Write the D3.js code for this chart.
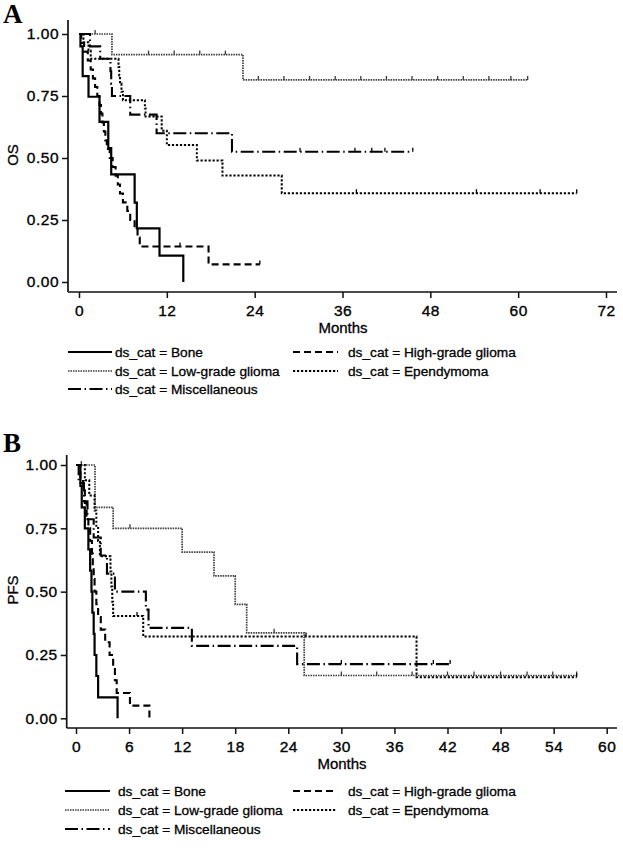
<!DOCTYPE html>
<html><head><meta charset="utf-8">
<script src="https://cdn.jsdelivr.net/npm/d3@7"></script>
<style>
body{margin:0;background:#fff;}
svg{display:block;}
text{font-family:"Liberation Sans",Arial,sans-serif;fill:#000;}
</style></head>
<body><svg id="c" width="623" height="857"></svg>
<script>
// ---------- DATA ----------
const seriesNames = ["Bone","High-grade glioma","Low-grade glioma","Ependymoma","Miscellaneous"];
const legendLabelPrefix = "ds_cat = ";

const osXTicks = [0,12,24,36,48,60,72];
const pfsXTicks = [0,6,12,18,24,30,36,42,48,54,60];
const yTicks = [0,0.25,0.5,0.75,1];

// OS (panel A): event times (months) and survival after each event
const osBoneTimes = [0.2,0.5,1.3,2.8,4.0,4.4,7.6,7.9,11.0,14.25];
const osBoneSurv  = [0.95,0.83,0.747,0.646,0.54,0.434,0.32,0.216,0.106,0];
const osBoneEnd = 14.25, osBoneCens = [];

const osHggTimes = [0.3,0.7,1.2,1.6,1.9,2.2,2.5,2.8,3.0,3.2,3.4,3.6,3.8,4.2,4.6,5.0,5.3,5.6,6.0,6.6,7.0,7.6,8.0,8.3,17.7];
const osHggSurv  = [0.964,0.929,0.893,0.857,0.821,0.786,0.75,0.714,0.679,0.643,0.607,0.571,0.536,0.5,0.464,0.429,0.393,0.357,0.321,0.286,0.25,0.214,0.179,0.143,0.071];
const osHggEnd = 24.7, osHggCens = [13.8,24.7];

const osLggTimes = [4.5,22.4];
const osLggSurv  = [0.917,0.815];
const osLggEnd = 61.3, osLggCens = [2.2,9.5,13,16.5,20,24.5,28,31.5,35,38.5,42,45.5,49,52.5,56,59,61.3];

const osEpeTimes = [0.6,1.3,1.6,5.4,5.5,5.6,5.8,6.0,9.0,9.1,11.3,12.0,16.1,19.6,27.7];
const osEpeSurv  = [0.967,0.933,0.9,0.867,0.833,0.8,0.767,0.733,0.70,0.667,0.61,0.552,0.49,0.429,0.358];
const osEpeEnd = 68, osEpeCens = [37.9,54.3,63,68];

const osMiscTimes = [1.5,2.9,4.3,4.4,4.5,7.0,10.6,20.9];
const osMiscSurv  = [0.95,0.9,0.85,0.8,0.75,0.675,0.6,0.525];
const osMiscEnd = 45.6, osMiscCens = [30.2,37.7,40,41.8,45.6];

// PFS (panel B)
const pfsBoneTimes = [0.5,0.65,1.0,1.4,1.6,1.75,1.85,2.0,2.1,2.3,2.5,4.7];
const pfsBoneSurv  = [0.917,0.833,0.75,0.667,0.583,0.5,0.417,0.333,0.25,0.167,0.083,0];
const pfsBoneEnd = 4.7, pfsBoneCens = [];

const pfsHggTimes = [0.5,0.8,1.0,1.2,1.4,1.6,1.8,1.9,2.0,2.1,2.3,2.5,2.8,3.3,3.8,4.2,4.4,4.6,6.1,8.3];
const pfsHggSurv  = [0.95,0.9,0.85,0.8,0.75,0.7,0.65,0.6,0.55,0.5,0.45,0.4,0.35,0.3,0.25,0.2,0.15,0.1,0.05,0];
const pfsHggEnd = 8.3, pfsHggCens = [];

const pfsLggTimes = [2.15,4.2,12.0,15.6,18.0,19.3,25.8];
const pfsLggSurv  = [0.833,0.75,0.656,0.5625,0.45,0.3375,0.169];
const pfsLggEnd = 56.6, pfsLggCens = [0.6,6.1,22.4,30,34,38,42,45,48,51,53.9,56.6];

const pfsEpeTimes = [1.0,1.5,2.1,2.3,2.5,2.7,3.9,4.0,4.1,4.2,7.6,38.5];
const pfsEpeSurv  = [0.94,0.88,0.82,0.76,0.70,0.64,0.58,0.52,0.46,0.404,0.323,0.162];
const pfsEpeEnd = 56.6, pfsEpeCens = [6.9,26,56.6];

const pfsMiscTimes = [0.3,0.9,1.3,2.0,2.8,3.5,4.4,7.9,8.2,13.1,25.0];
const pfsMiscSurv  = [0.929,0.857,0.786,0.714,0.643,0.571,0.5,0.429,0.357,0.286,0.214];
const pfsMiscEnd = 42.3, pfsMiscCens = [30.0,40.4,42.3];

// ---------- STYLES ----------
const styles = {
  "Bone":{stroke:"#000",w:2.2,dash:null},
  "High-grade glioma":{stroke:"#000",w:2.1,dash:"7,4"},
  "Low-grade glioma":{stroke:"#3a3a3a",w:1.7,dash:"1.5,1"},
  "Ependymoma":{stroke:"#000",w:2,dash:"2.2,1.8"},
  "Miscellaneous":{stroke:"#000",w:2.1,dash:"13,3.5,1.5,3.5"}
};

const svg = d3.select("#c");

function stepPath(x,y,times,surv,end){
  const p = d3.path();
  p.moveTo(x(0),y(1));
  let s=1;
  times.forEach((t,i)=>{ p.lineTo(x(t),y(s)); s=surv[i]; p.lineTo(x(t),y(s)); });
  if(end>times[times.length-1]) p.lineTo(x(end),y(s));
  return p.toString();
}
function survAt(times,surv,t){
  let s=1; times.forEach((tt,i)=>{ if(tt<=t) s=surv[i]; }); return s;
}

function panel(cfg){
  const x = d3.scaleLinear().domain(cfg.xDom).range(cfg.xRange);
  const y = d3.scaleLinear().domain([0,1]).range(cfg.yRange);
  const g = svg.append("g");
  g.append("line").attr("x1",cfg.axX).attr("x2",cfg.axX).attr("y1",cfg.axTop).attr("y2",cfg.axY)
    .attr("stroke","#111").attr("stroke-width",1.7);
  g.append("line").attr("x1",cfg.axX).attr("x2",cfg.axRight).attr("y1",cfg.axY).attr("y2",cfg.axY)
    .attr("stroke","#111").attr("stroke-width",1.7);
  const ya = g.append("g").attr("transform",`translate(${cfg.axX},0)`)
    .call(d3.axisLeft(y).tickValues(yTicks).tickFormat(d3.format(".2f")).tickSize(6).tickPadding(3));
  const xa = g.append("g").attr("transform",`translate(0,${cfg.axY})`)
    .call(d3.axisBottom(x).tickValues(cfg.xTicks).tickFormat(d3.format("d")).tickSize(6).tickPadding(7));
  [ya,xa].forEach(a=>{
    a.select(".domain").remove();
    a.selectAll(".tick line").attr("stroke","#111").attr("stroke-width",1.5);
    a.selectAll(".tick text").style("font-size","15.5px").style("letter-spacing","0.5px")
      .attr("fill","#000").attr("stroke","#000").attr("stroke-width",0.35)
      .style("font-family",'"Liberation Sans",Arial,sans-serif');
  });
  g.append("text").attr("x",cfg.monthsX).attr("y",cfg.monthsY).attr("text-anchor","middle")
    .attr("stroke","#000").attr("stroke-width",0.3)
    .style("font-size","15px").text("Months");
  g.append("text").attr("transform",`translate(18,${cfg.yLabY}) rotate(-90)`).attr("text-anchor","middle")
    .attr("stroke","#000").attr("stroke-width",0.3)
    .style("font-size","15px").text(cfg.yLab);
  g.append("text").attr("x",3).attr("y",cfg.letterY).style("font-family",'"Liberation Serif","Times New Roman",serif')
    .style("font-weight","bold").style("font-size","27px").text(cfg.letter);
  cfg.series.forEach(sr=>{
    const st = styles[sr.name];
    g.append("path").attr("d",stepPath(x,y,sr.times,sr.surv,sr.end))
      .attr("fill","none").attr("stroke",st.stroke).attr("stroke-width",st.w)
      .attr("stroke-dasharray",st.dash).attr("stroke-linejoin","miter");
    sr.cens.forEach(c=>{
      const s = survAt(sr.times,sr.surv,c);
      g.append("line").attr("x1",x(c)).attr("x2",x(c)).attr("y1",y(s)).attr("y2",y(s)-4)
        .attr("stroke",st.stroke).attr("stroke-width",1.3);
    });
  });
  const L = cfg.legend;
  const order = [["Bone",0,0],["High-grade glioma",1,0],["Low-grade glioma",0,1],["Ependymoma",1,1],["Miscellaneous",0,2]];
  order.forEach(([name,col,row])=>{
    const st = styles[name];
    const yy = L.rows[row];
    const lx = L.lineX[col];
    g.append("line").attr("x1",lx[0]).attr("x2",lx[1]).attr("y1",yy).attr("y2",yy)
      .attr("stroke",st.stroke).attr("stroke-width",st.w).attr("stroke-dasharray",st.dash);
    g.append("text").attr("x",L.textX[col]).attr("y",yy+5).style("font-size","13.7px")
      .attr("stroke","#000").attr("stroke-width",0.3)
      .text(legendLabelPrefix+name);
  });
}

panel({
  letter:"A", letterY:23, yLab:"OS", yLabY:155,
  xDom:[0,72], xRange:[79,606], yRange:[282,34], xTicks:osXTicks,
  axX:68, axTop:20, axY:292, axRight:617,
  monthsX:343, monthsY:333,
  series:[
    {name:"Bone",times:osBoneTimes,surv:osBoneSurv,end:osBoneEnd,cens:osBoneCens},
    {name:"High-grade glioma",times:osHggTimes,surv:osHggSurv,end:osHggEnd,cens:osHggCens},
    {name:"Low-grade glioma",times:osLggTimes,surv:osLggSurv,end:osLggEnd,cens:osLggCens},
    {name:"Ependymoma",times:osEpeTimes,surv:osEpeSurv,end:osEpeEnd,cens:osEpeCens},
    {name:"Miscellaneous",times:osMiscTimes,surv:osMiscSurv,end:osMiscEnd,cens:osMiscCens}
  ],
  legend:{rows:[352,371,389], lineX:[[68,112],[293,338]], textX:[115,348]}
});

panel({
  letter:"B", letterY:452, yLab:"PFS", yLabY:590,
  xDom:[0,60], xRange:[76,606.7], yRange:[718.3,465], xTicks:pfsXTicks,
  axX:66.7, axTop:455, axY:728, axRight:617,
  monthsX:342, monthsY:769,
  series:[
    {name:"Bone",times:pfsBoneTimes,surv:pfsBoneSurv,end:pfsBoneEnd,cens:pfsBoneCens},
    {name:"High-grade glioma",times:pfsHggTimes,surv:pfsHggSurv,end:pfsHggEnd,cens:pfsHggCens},
    {name:"Low-grade glioma",times:pfsLggTimes,surv:pfsLggSurv,end:pfsLggEnd,cens:pfsLggCens},
    {name:"Ependymoma",times:pfsEpeTimes,surv:pfsEpeSurv,end:pfsEpeEnd,cens:pfsEpeCens},
    {name:"Miscellaneous",times:pfsMiscTimes,surv:pfsMiscSurv,end:pfsMiscEnd,cens:pfsMiscCens}
  ],
  legend:{rows:[791,810,829], lineX:[[65,110],[293,337]], textX:[118,348]}
});
</script></body></html>
